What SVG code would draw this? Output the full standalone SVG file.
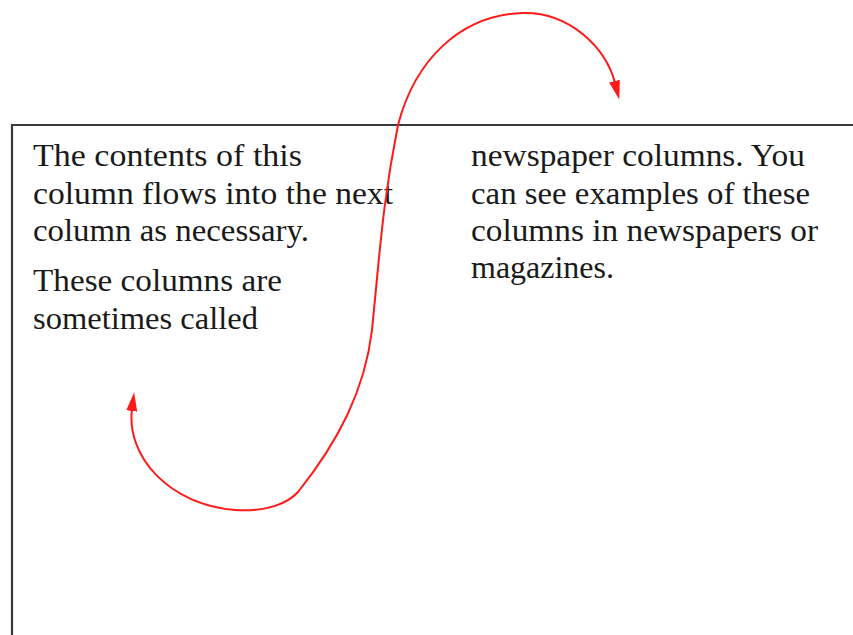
<svg xmlns="http://www.w3.org/2000/svg" width="853" height="635" viewBox="0 0 853 635">
<style>
.t{font-family:"Liberation Serif","Times New Roman",serif;font-size:32.5px;fill:#1a1a1a}
.box{fill:none;stroke:#3a3a3a;stroke-width:2.2}
.flow{fill:none;stroke:#ff1a1a;stroke-width:2}
</style>
<defs>
<marker id="ah" markerUnits="userSpaceOnUse" markerWidth="20" markerHeight="14" viewBox="0 0 20 14" refX="2" refY="7" orient="auto-start-reverse">
<path d="M0 1.5 L19 7 L0 12.5 Z" fill="#ff1a1a"/>
</marker>
</defs>
<rect width="853" height="635" fill="#fff"/>
<g id="frame">
<path class="box" d="M12 635 V125 H853"/>
</g>
<g id="column1">
<text class="t" x="33" y="166" textLength="269" lengthAdjust="spacingAndGlyphs">The contents of this</text>
<text class="t" x="33" y="204" textLength="360" lengthAdjust="spacingAndGlyphs">column flows into the next</text>
<text class="t" x="33" y="241" textLength="276" lengthAdjust="spacingAndGlyphs">column as necessary.</text>
<text class="t" x="33" y="291" textLength="249" lengthAdjust="spacingAndGlyphs">These columns are</text>
<text class="t" x="33" y="329" textLength="225" lengthAdjust="spacingAndGlyphs">sometimes called</text>
</g>
<g id="column2">
<text class="t" x="471" y="166" textLength="334" lengthAdjust="spacingAndGlyphs">newspaper columns. You</text>
<text class="t" x="471" y="204" textLength="339" lengthAdjust="spacingAndGlyphs">can see examples of these</text>
<text class="t" x="471" y="241" textLength="347" lengthAdjust="spacingAndGlyphs">columns in newspapers or</text>
<text class="t" x="471" y="278" textLength="143" lengthAdjust="spacingAndGlyphs">magazines.</text>
</g>
<g id="connectors">
<path class="flow" marker-start="url(#ah)" marker-end="url(#ah)" d="M132 409 C126 457 170 505 235 510 C268 512 288 503 298 492 C338 442 365 390 372 330 C380 250 383 200 398 125 C415 60 460 15 523 13 C570 12 606 48 615 83"/>
</g>
</svg>
